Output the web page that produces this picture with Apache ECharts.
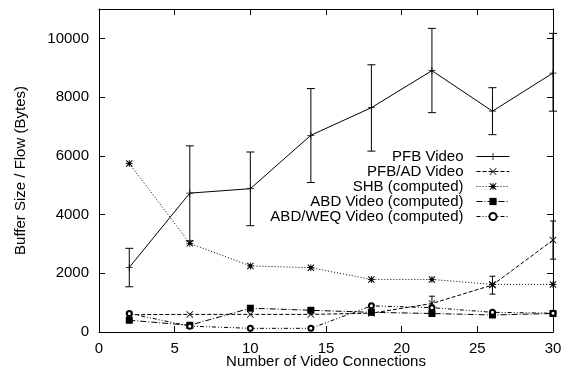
<!DOCTYPE html>
<html>
<head>
<meta charset="utf-8">
<script src="https://cdn.jsdelivr.net/npm/echarts@6/dist/echarts.min.js"></script>
<style>html,body{margin:0;padding:0;background:#fff}#c{width:563px;height:370px}</style>
</head>
<body>
<div id="c"></div>
<script>
var connections = [2, 6, 10, 14, 18, 22, 26, 30];
var pfbVideo = [2200, 4730, 4880, 6700, 7640, 8900, 7520, 8820];
var pfbLow = [1540, 3100, 3620, 5090, 6160, 7470, 6720, 7520];
var pfbHigh = [2850, 6340, 6130, 8290, 9100, 10340, 8320, 10170];
var pfbAdVideo = [590, 600, 600, 600, 640, 970, 1600, 3130];
var pfbAdLow = [null, null, null, null, null, 800, 1290, 2480];
var pfbAdHigh = [null, null, null, null, null, 1220, 1900, 3780];
var shb = [5740, 3020, 2250, 2190, 1790, 1790, 1620, 1620];
var abdVideo = [400, 230, 810, 740, 670, 630, 580, 630];
var abdWeqVideo = [630, 200, 125, 125, 890, 830, 670, 640];
var seriesNames = ['PFB Video', 'PFB/AD Video', 'SHB (computed)', 'ABD Video (computed)', 'ABD/WEQ Video (computed)'];
var xTicks = [0, 5, 10, 15, 20, 25, 30];
var yTicks = [0, 2000, 4000, 6000, 8000, 10000];

function pairs(vals) { return connections.map(function (x, i) { return [x, vals[i]]; }); }
function bars(lo, hi) {
  var out = [];
  connections.forEach(function (x, i) { if (lo[i] != null && hi[i] != null) out.push([x, lo[i], hi[i]]); });
  return out;
}

var plusPath = 'path://M0,4.45H10V5.55H0Z M4.45,0H5.55V10H4.45Z';
var crossPath = 'path://M0.8,0L5,4.2L9.2,0L10,0.8L5.8,5L10,9.2L9.2,10L5,5.8L0.8,10L0,9.2L4.2,5L0,0.8Z';
var starPath = 'path://M0,4.4H10V5.6H0Z M4.4,0H5.6V10H4.4Z M1,0L5,4L9,0L10,1L6,5L10,9L9,10L5,6L1,10L0,9L4,5L0,1Z M2.5,2.5H7.5V7.5H2.5Z';

function errRender(capW) {
  return function (params, api) {
    var x = api.value(0), lo = api.value(1), hi = api.value(2);
    var a = api.coord([x, hi]), b = api.coord([x, lo]);
    var st = { stroke: '#000', lineWidth: 1 };
    return { type: 'group', children: [
      { type: 'line', shape: { x1: a[0], y1: a[1], x2: b[0], y2: b[1] }, style: st },
      { type: 'line', shape: { x1: a[0] - capW, y1: a[1], x2: a[0] + capW, y2: a[1] }, style: st },
      { type: 'line', shape: { x1: b[0] - capW, y1: b[1], x2: b[0] + capW, y2: b[1] }, style: st }
    ] };
  };
}

var font = 'Liberation Sans, Arial, Helvetica, sans-serif';
var FS = 15;
var chart = echarts.init(document.getElementById('c'), null, { renderer: 'canvas' });

function lineSeries(name, vals, dash, symbol, size, bw) {
  return {
    name: name, type: 'line', data: pairs(vals), xAxisIndex: 0, yAxisIndex: 0,
    symbol: symbol, symbolSize: size, showAllSymbol: true,
    lineStyle: { color: '#000', width: 1, type: dash },
    itemStyle: { color: '#000', borderColor: '#000', borderWidth: bw },
    emphasis: { disabled: true }, animation: false, z: 3
  };
}

var axisCommon = {
  axisLine: { show: true, onZero: false, lineStyle: { color: '#000', width: 1 } },
  axisTick: { show: true, inside: true, length: 6, lineStyle: { color: '#000' } },
  splitLine: { show: false }
};

chart.setOption({
  backgroundColor: '#fff',
  animation: false,
  textStyle: { fontFamily: font },
  grid: { left: 99, right: 10, top: 9, bottom: 38, containLabel: false, outerBoundsMode: 'none' },
  legend: {
    data: seriesNames,
    orient: 'vertical', align: 'right',
    right: 53, top: 149, padding: 0,
    itemWidth: 33, itemHeight: 9, itemGap: 0,
    lineStyle: { width: 1 },
    textStyle: { fontFamily: font, fontSize: FS, color: '#000', padding: [0, 8, 0, 0] },
    selectedMode: false
  },
  xAxis: [
    Object.assign({ type: 'value', min: 0, max: 30, interval: 5, position: 'bottom',
      name: 'Number of Video Connections', nameLocation: 'middle', nameGap: 22, nameMoveOverlap: false,
      nameTextStyle: { fontFamily: font, fontSize: FS, color: '#000' },
      axisLabel: { color: '#000', fontSize: FS, fontFamily: font, margin: 9,
        formatter: function (v) { return xTicks.indexOf(v) >= 0 ? String(v) : ''; } } }, axisCommon),
    Object.assign({ type: 'value', min: 0, max: 30, interval: 5, position: 'top',
      axisLabel: { show: false } }, axisCommon)
  ],
  yAxis: [
    Object.assign({ type: 'value', min: 0, max: 11000, interval: 2000, position: 'left',
      name: 'Buffer Size / Flow (Bytes)', nameLocation: 'middle', nameGap: 71, nameMoveOverlap: false,
      nameTextStyle: { fontFamily: font, fontSize: FS, color: '#000' },
      axisLabel: { color: '#000', fontSize: FS, fontFamily: font, margin: 10,
        formatter: function (v) { return yTicks.indexOf(v) >= 0 ? String(v) : ''; } } }, axisCommon),
    Object.assign({ type: 'value', min: 0, max: 11000, interval: 2000, position: 'right',
      axisLabel: { show: false } }, axisCommon)
  ],
  series: [
    { name: 'pfbErr', type: 'custom', renderItem: errRender(4), data: bars(pfbLow, pfbHigh), z: 2, silent: true },
    { name: 'pfbAdErr', type: 'custom', renderItem: errRender(3), data: bars(pfbAdLow, pfbAdHigh), z: 2, silent: true },
    lineSeries(seriesNames[0], pfbVideo, 'solid', plusPath, 7, 0),
    lineSeries(seriesNames[1], pfbAdVideo, [4, 2], crossPath, 7, 0),
    lineSeries(seriesNames[2], shb, [1, 2], starPath, 7, 0),
    lineSeries(seriesNames[3], abdVideo, [6, 2, 1, 2], 'rect', 7, 0),
    lineSeries(seriesNames[4], abdWeqVideo, [4, 2, 1, 2, 1, 2], 'emptyCircle', 5, 1)
  ]
});
</script>
</body>
</html>
